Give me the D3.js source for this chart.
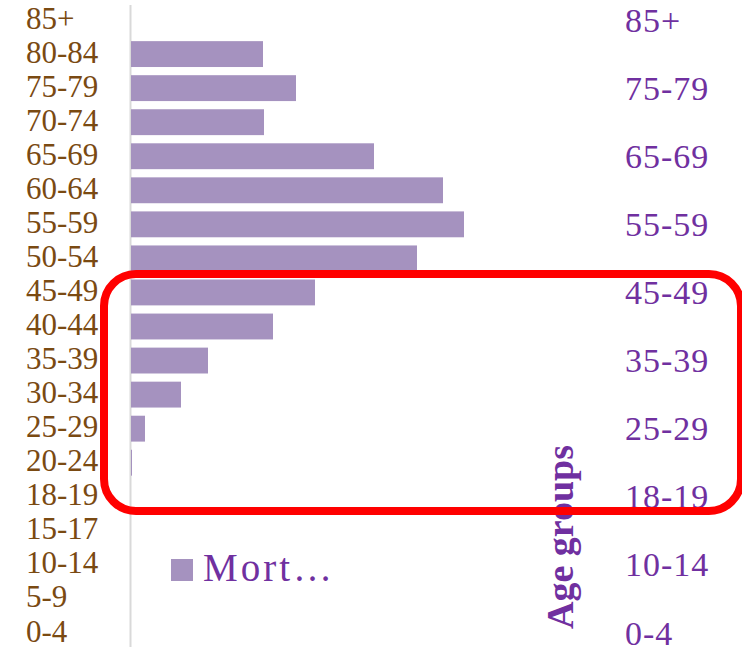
<!DOCTYPE html>
<html>
<head>
<meta charset="utf-8">
<script src="https://cdn.jsdelivr.net/npm/d3@7"></script>
<style>
  html, body { margin: 0; padding: 0; background: #ffffff; }
  svg { display: block; }
</style>
</head>
<body>
<div id="chart"></div>
<script>
// ---- data ----
const categories = ["85+", "80-84", "75-79", "70-74", "65-69", "60-64", "55-59", "50-54",
  "45-49", "40-44", "35-39", "30-34", "25-29", "20-24", "18-19", "15-17", "10-14", "5-9", "0-4"];
const mortality = [0, 132, 165, 133, 243, 312, 333, 286, 184, 142, 77, 50, 14, 1, 0, 0, 0, 0, 0];
const rightTickLabels = ["85+", "75-79", "65-69", "55-59", "45-49", "35-39", "25-29", "18-19", "10-14", "0-4"];
const legendLabel = "Mort\u2026";
const axisTitle = "Age groups";

// ---- layout ----
const W = 742, H = 647;
const svg = d3.select("#chart").append("svg").attr("width", W).attr("height", H);

const x = d3.scaleLinear().domain([0, 400]).range([131, 531]);
const y = d3.scaleBand().domain(categories).range([2, 649]).paddingInner(0.24).paddingOuter(0.12);

const brown = "#7a4a12";
const purple = "#7030a0";
const barColor = "#a592bf";

// axis line
svg.append("line")
  .attr("x1", 130.5).attr("x2", 130.5).attr("y1", 5).attr("y2", H)
  .attr("stroke", "#d9d9d9").attr("stroke-width", 2);

// bars
svg.selectAll("rect.bar")
  .data(categories.map((c, i) => ({ c, v: mortality[i] })))
  .join("rect")
  .attr("class", "bar")
  .attr("x", x(0))
  .attr("y", d => y(d.c) + 1)
  .attr("width", d => x(d.v) - x(0))
  .attr("height", y.bandwidth())
  .attr("fill", barColor);

// left axis labels
const leftAxis = d3.axisLeft(y).tickSize(0).tickPadding(0);
const gl = svg.append("g").attr("transform", "translate(26,-1)").call(leftAxis);
gl.select(".domain").remove();
gl.selectAll("text")
  .attr("text-anchor", "start")
  .attr("x", 0)
  .attr("dy", "0.34em")
  .attr("fill", brown)
  .style("font-family", "'Liberation Serif', serif")
  .style("font-size", "31px");

// right axis labels (every other)
const rightAxis = d3.axisRight(y).tickValues(rightTickLabels).tickSize(0).tickPadding(0);
const gr = svg.append("g").attr("transform", "translate(625,1)").call(rightAxis);
gr.select(".domain").remove();
gr.selectAll("text")
  .attr("x", 0)
  .attr("dy", "0.34em")
  .attr("fill", purple)
  .style("font-family", "'Liberation Serif', serif")
  .style("font-size", "34px")
  .style("letter-spacing", "1px");

// axis title
svg.append("text")
  .attr("transform", "translate(573,537) rotate(-90)")
  .attr("text-anchor", "middle")
  .attr("fill", purple)
  .style("font-family", "'Liberation Serif', serif")
  .style("font-weight", "bold")
  .style("font-size", "38px")
  .text(axisTitle);

// legend
svg.append("rect")
  .attr("x", 171).attr("y", 559).attr("width", 22).attr("height", 22)
  .attr("fill", barColor);
svg.append("text")
  .attr("x", 203).attr("y", 581)
  .attr("fill", purple)
  .style("font-family", "'Liberation Serif', serif")
  .style("font-size", "39px")
  .style("letter-spacing", "3px")
  .text(legendLabel);

// red annotation box
svg.append("rect")
  .attr("x", 104).attr("y", 274).attr("width", 637).attr("height", 237)
  .attr("rx", 32).attr("ry", 32)
  .attr("fill", "none")
  .attr("stroke", "#ff0000")
  .attr("stroke-width", 8);
</script>
</body>
</html>
